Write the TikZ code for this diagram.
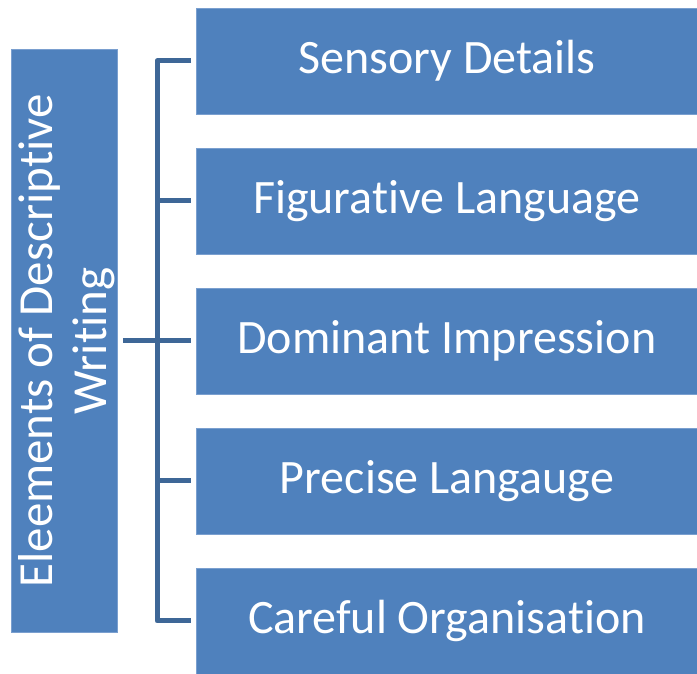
\documentclass[tikz,border=0pt]{standalone}
\usepackage{fontspec}
\setmainfont[Ligatures={NoCommon}]{Carlito}
\usetikzlibrary{calc}
\definecolor{boxblue}{HTML}{4F81BD}
\definecolor{boxedge}{HTML}{7A9FCF}
\definecolor{linkblue}{HTML}{3E6797}
\begin{document}
\begin{tikzpicture}[x=1pt,y=-1pt,
  itembox/.style={fill=boxblue,draw=boxedge,line width=0.8pt,minimum width=501pt,minimum height=106pt,anchor=north west,inner sep=0pt,text=white,font=\fontsize{48}{56}\selectfont},
  mainbox/.style={fill=boxblue,draw=boxedge,line width=0.8pt,minimum width=106pt,minimum height=583pt,anchor=north west,inner sep=0pt},
  link/.style={draw=linkblue,line width=5pt}]
\useasboundingbox (0,0) rectangle (697,673);
\node[mainbox] (main) at (11,49) {};
\node[text=white,rotate=90,align=center,font=\fontsize{49}{54}\selectfont] (maintxt) at ($(main.center)+(2,0)$) {Eleements of Descriptive\\Writing};
\node[itembox] (b1) at (196,7.5) {Sensory Details};
\node[itembox] (b2) at (196,147.5) {Figurative Language};
\node[itembox] (b3) at (196,287.5) {Dominant Impression};
\node[itembox] (b4) at (196,427.5) {Precise Langauge};
\node[itembox] (b5) at (196,567.5) {Careful Organisation};
\coordinate (bus) at (157,0);
\draw[link] ($(main.east)+(5,0)$) -- (b3.west -| bus);
\draw[link,line join=round] ($(b1.west)+(-5,0)$) -- (b1.west -| bus) -- (b5.west -| bus) -- ($(b5.west)+(-5,0)$);
\draw[link] (b2.west -| bus) -- ($(b2.west)+(-5,0)$);
\draw[link] (b3.west -| bus) -- ($(b3.west)+(-5,0)$);
\draw[link] (b4.west -| bus) -- ($(b4.west)+(-5,0)$);
\end{tikzpicture}
\end{document}
